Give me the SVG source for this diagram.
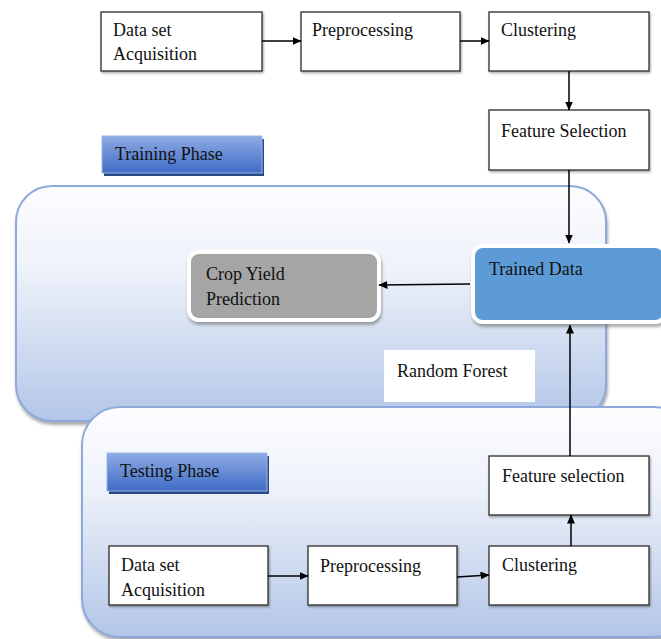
<svg xmlns="http://www.w3.org/2000/svg" width="661" height="639" viewBox="0 0 661 639">
<style>
text{font-family:"Liberation Serif","Times New Roman",serif;font-size:18px;fill:#111}
.box{fill:#fff;stroke:#3a3a3a;stroke-width:1.4}
.cont{fill:url(#cg);stroke:#8eaadb;stroke-width:2}
.lbl{fill:url(#lg);stroke:#9db5e3;stroke-width:1}
.con{stroke:#000;stroke-width:1.5;fill:none;marker-end:url(#ah)}
</style>
<defs>
<linearGradient id="cg" x1="0" y1="0" x2="0" y2="1">
<stop offset="0" stop-color="#fdfdff"/>
<stop offset="0.35" stop-color="#eef2fa"/>
<stop offset="1" stop-color="#b3c6e7"/>
</linearGradient>
<linearGradient id="lg" x1="0" y1="0" x2="0" y2="1">
<stop offset="0" stop-color="#8eabe3"/>
<stop offset="1" stop-color="#3f6cc7"/>
</linearGradient>
<filter id="sh" x="-10%" y="-10%" width="125%" height="130%">
<feDropShadow dx="1" dy="3" stdDeviation="1.5" flood-color="#555" flood-opacity="0.5"/>
</filter>
<filter id="bs" x="-5%" y="-5%" width="115%" height="120%">
<feDropShadow dx="1" dy="1.5" stdDeviation="0.8" flood-color="#000" flood-opacity="0.35"/>
</filter>
<marker id="ah" markerWidth="9" markerHeight="8" refX="8.5" refY="4" orient="auto" markerUnits="userSpaceOnUse">
<path d="M0,0 L9,4 L0,8 z" fill="#000"/>
</marker>
</defs>

<g id="training-phase-container">
<rect x="16" y="186" width="590" height="235" rx="36" class="cont" filter="url(#sh)"/>
</g>
<g id="testing-phase-container">
<rect x="82" y="407" width="610" height="230" rx="38" class="cont" filter="url(#sh)"/>
</g>

<g id="ds1"><rect x="101" y="12" width="161" height="59" class="box" filter="url(#bs)"/><text x="113" y="36">Data set</text><text x="113" y="60">Acquisition</text></g>
<g id="pp1"><rect x="301" y="12" width="159" height="59" class="box" filter="url(#bs)"/><text x="312" y="36">Preprocessing</text></g>
<g id="cl1"><rect x="489" y="12" width="160" height="59" class="box" filter="url(#bs)"/><text x="501" y="36">Clustering</text></g>
<g id="fs1"><rect x="489" y="110" width="160" height="60" class="box" filter="url(#bs)"/><text x="501" y="137">Feature Selection</text></g>

<g id="training-label"><rect x="104" y="139" width="160" height="37" fill="#2b4a8a"/><rect x="102" y="136" width="160" height="37" class="lbl"/><text x="115" y="160">Training Phase</text></g>

<g id="trained-data"><rect x="473" y="246" width="192" height="76" rx="10" fill="#5b9bd5" stroke="#fff" stroke-width="4" filter="url(#sh)"/><text x="489" y="275">Trained Data</text></g>
<g id="crop-yield"><rect x="189" y="252" width="190" height="68" rx="10" fill="#a5a5a5" stroke="#fff" stroke-width="4" filter="url(#sh)"/><text x="206" y="280">Crop Yield</text><text x="206" y="305">Prediction</text></g>
<g id="random-forest"><rect x="384" y="350" width="151" height="52" fill="#fff"/><text x="397" y="377">Random Forest</text></g>

<g id="testing-label"><rect x="109" y="456" width="160" height="38" fill="#2b4a8a"/><rect x="107" y="453" width="160" height="38" class="lbl"/><text x="120" y="477">Testing Phase</text></g>

<g id="fs2"><rect x="489" y="456" width="160" height="59" class="box" filter="url(#bs)"/><text x="502" y="482">Feature selection</text></g>
<g id="ds2"><rect x="109" y="546" width="159" height="59" class="box" filter="url(#bs)"/><text x="121" y="571">Data set</text><text x="121" y="596">Acquisition</text></g>
<g id="pp2"><rect x="308" y="546" width="149" height="59" class="box" filter="url(#bs)"/><text x="320" y="572">Preprocessing</text></g>
<g id="cl2"><rect x="489" y="546" width="160" height="59" class="box" filter="url(#bs)"/><text x="502" y="571">Clustering</text></g>

<g id="connectors">
<line x1="262" y1="41" x2="301" y2="41" class="con"/>
<line x1="460" y1="41" x2="489" y2="41" class="con"/>
<line x1="569" y1="71" x2="569" y2="110" class="con"/>
<line x1="569" y1="170" x2="569" y2="243" class="con"/>
<line x1="470" y1="284" x2="379" y2="285" class="con"/>
<line x1="570" y1="456" x2="570" y2="325" class="con"/>
<line x1="268" y1="576" x2="308" y2="576" class="con"/>
<line x1="457" y1="577" x2="489" y2="575" class="con"/>
<line x1="571" y1="546" x2="571" y2="515" class="con"/>
</g>
</svg>
